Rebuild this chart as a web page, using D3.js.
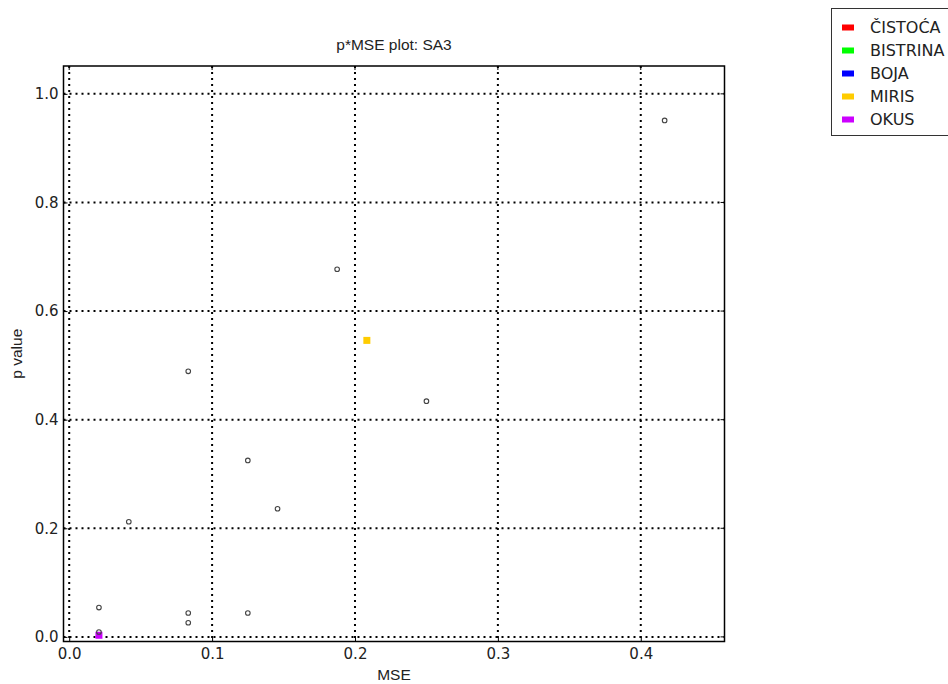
<!DOCTYPE html>
<html>
<head>
<meta charset="utf-8">
<script src="https://cdn.jsdelivr.net/npm/d3@7"></script>
<style>
  html, body { margin: 0; padding: 0; background: #fff; }
  svg { display: block; }
</style>
</head>
<body>
<svg id="chart" width="948" height="684"></svg>
<script>
// ---- data ----
const titleText = "p*MSE plot: SA3";
const xLabel = "MSE";
const yLabel = "p value";
const xTicks = [0.0, 0.1, 0.2, 0.3, 0.4];
const yTicks = [0.0, 0.2, 0.4, 0.6, 0.8, 1.0];
const circleMSE = [0.0208, 0.0208, 0.0417, 0.0833, 0.0833, 0.0833, 0.125, 0.125, 0.1458, 0.1875, 0.25, 0.4167];
const circleP   = [0.054, 0.009, 0.212, 0.489, 0.044, 0.026, 0.325, 0.044, 0.236, 0.677, 0.434, 0.951];
const legendNames  = ["ČISTOĆA", "BISTRINA", "BOJA", "MIRIS", "OKUS"];
const legendColors = ["#ff0000", "#00ff00", "#0000ff", "#ffcc00", "#cc00ff"];
const squareNames = ["MIRIS", "OKUS"];
const squareMSE   = [0.2083, 0.0208];
const squareP     = [0.546, 0.003];

// ---- layout ----
const svg = d3.select("#chart");
const L = 63.5, R = 724.5, T = 66, B = 641.5;
const x = d3.scaleLinear().domain([-0.004, 0.4586]).range([L, R]);
const y = d3.scaleLinear().domain([-0.0085, 1.0513]).range([B, T]);
const colorOf = d3.scaleOrdinal().domain(legendNames).range(legendColors);

// grid
const grid = svg.append("g");
grid.selectAll("line.vx").data(xTicks).join("line")
  .attr("x1", d => x(d)).attr("x2", d => x(d)).attr("y1", T).attr("y2", B)
  .attr("stroke", "#000").attr("stroke-width", 2).attr("stroke-dasharray", "2,4");
grid.selectAll("line.hy").data(yTicks).join("line")
  .attr("y1", d => y(d)).attr("y2", d => y(d)).attr("x1", L).attr("x2", R)
  .attr("stroke", "#000").attr("stroke-width", 2).attr("stroke-dasharray", "2,4");

// axes
const tickFont = "DejaVu Sans, sans-serif";
const xAxis = svg.append("g").attr("transform", `translate(0,${B})`)
  .call(d3.axisBottom(x).tickValues(xTicks).tickFormat(d3.format(".1f")).tickSizeInner(-4).tickSizeOuter(0).tickPadding(7));
const yAxis = svg.append("g").attr("transform", `translate(${L},0)`)
  .call(d3.axisLeft(y).tickValues(yTicks).tickFormat(d3.format(".1f")).tickSizeInner(-4).tickSizeOuter(0).tickPadding(5));
[xAxis, yAxis].forEach(a => {
  a.attr("font-size", 15).attr("font-family", tickFont);
  a.select(".domain").remove();
  a.selectAll("text").attr("font-family", tickFont).attr("font-size", 15).attr("fill", "#222");
  a.selectAll("line").attr("stroke", "#000");
});
// top ticks & right ticks
svg.append("g").selectAll("line").data(xTicks).join("line")
  .attr("x1", d => x(d)).attr("x2", d => x(d)).attr("y1", T).attr("y2", T + 4).attr("stroke", "#000");
svg.append("g").selectAll("line").data(yTicks).join("line")
  .attr("y1", d => y(d)).attr("y2", d => y(d)).attr("x1", R).attr("x2", R - 4).attr("stroke", "#000");

// frame
svg.append("rect").attr("x", L).attr("y", T).attr("width", R - L).attr("height", B - T)
  .attr("fill", "none").attr("stroke", "#000").attr("stroke-width", 1.5);

// squares
const sq = squareNames.map((n, i) => ({ n, mx: squareMSE[i], p: squareP[i] }));
svg.append("g").selectAll("rect").data(sq).join("rect")
  .attr("x", d => x(d.mx) - 3.5).attr("y", d => y(d.p) - 3.5)
  .attr("width", 7).attr("height", 7).attr("fill", d => colorOf(d.n));

// circles
const pts = circleMSE.map((m, i) => ({ m, p: circleP[i] }));
svg.append("g").selectAll("circle").data(pts).join("circle")
  .attr("cx", d => x(d.m)).attr("cy", d => y(d.p)).attr("r", 2.3)
  .attr("fill", "none").attr("stroke", "#444").attr("stroke-width", 1.1);

// labels
const labFont = "'Liberation Sans Narrow', 'Liberation Sans', Arial, sans-serif";
svg.append("text").attr("x", (L + R) / 2).attr("y", 50).attr("text-anchor", "middle")
  .attr("font-family", labFont).attr("font-size", 15.5).attr("fill", "#222").text(titleText);
svg.append("text").attr("x", (L + R) / 2).attr("y", 680).attr("text-anchor", "middle")
  .attr("font-family", labFont).attr("font-size", 15.5).attr("fill", "#222").text(xLabel);
svg.append("text").attr("transform", `translate(22,${(T + B) / 2}) rotate(-90)`).attr("text-anchor", "middle")
  .attr("font-family", labFont).attr("font-size", 15.5).attr("fill", "#222").text(yLabel);

// legend
const lg = svg.append("g");
lg.append("rect").attr("x", 831.5).attr("y", 8.5).attr("width", 130).attr("height", 127)
  .attr("fill", "#fff").attr("stroke", "#333").attr("stroke-width", 1);
const rows = lg.selectAll("g.row").data(legendNames).join("g")
  .attr("transform", (d, i) => `translate(0,${27.5 + i * 23})`);
rows.append("rect").attr("x", 842).attr("y", -3).attr("width", 12).attr("height", 6)
  .attr("fill", d => colorOf(d));
rows.append("text").attr("x", 870).attr("y", 0).attr("dy", "0.36em")
  .attr("font-family", tickFont).attr("font-size", 16).attr("fill", "#222").text(d => d);
</script>
</body>
</html>
